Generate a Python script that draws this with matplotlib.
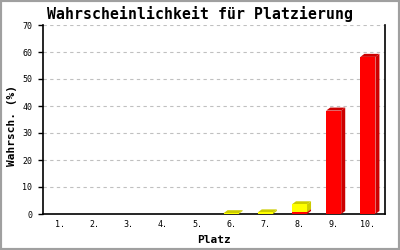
import matplotlib
matplotlib.use("Agg")
import matplotlib.pyplot as plt
from matplotlib.patches import Polygon, Rectangle
import numpy as np

places = [1, 2, 3, 4, 5, 6, 7, 8, 9, 10]
tick_labels = ["1.", "2.", "3.", "4.", "5.", "6.", "7.", "8.", "9.", "10."]
red_vals = [0, 0, 0, 0, 0, 0, 0, 0.7, 38.3, 58.2]
yellow_vals = [0, 0, 0, 0, 0, 0.3, 0.6, 2.9, 0, 0]

title = "Wahrscheinlichkeit für Platzierung"
ylabel = "Wahrsch. (%)"
xlabel = "Platz"

mono = ["DejaVu Sans Mono"]

fig = plt.figure(figsize=(4, 2.5), dpi=100)
ax = fig.add_axes([0.1075, 0.144, 0.855, 0.756])
ax.set_xlim(0.5, 10.5)
ax.set_ylim(0, 70)

# convert 3D depth offset (pixels) to data units via the axes transform
p0 = ax.transData.inverted().transform((0, 0))
p1 = ax.transData.inverted().transform((4, 3))
dx, dy = p1[0] - p0[0], p1[1] - p0[1]

width = 0.44
series = [(red_vals, "#ff0000", "#cc0000"), (yellow_vals, "#ffff00", "#cccc00")]
bottoms = np.zeros(len(places))
for vals, front, dark in series:
    for x, v, b in zip(places, vals, bottoms):
        if v <= 0:
            continue
        x0, x1 = x - width / 2, x + width / 2
        y0, y1 = b, b + v
        side = Polygon([(x1, y0), (x1 + dx, y0 + dy), (x1 + dx, y1 + dy), (x1, y1)],
                       closed=True, facecolor=dark, edgecolor="none", zorder=3)
        top = Polygon([(x0, y1), (x0 + dx, y1 + dy), (x1 + dx, y1 + dy), (x1, y1)],
                      closed=True, facecolor=dark, edgecolor="none", zorder=3)
        ax.add_patch(side)
        ax.add_patch(top)
        ax.add_patch(Rectangle((x0, y0), width, v, facecolor=front,
                               edgecolor="none", zorder=4))
    bottoms = bottoms + np.array(vals)

ax.set_yticks(np.arange(0, 71, 10))
ax.set_xticks(places)
ax.set_xticklabels(tick_labels)
ax.yaxis.grid(True, color="#c0c0c0", linestyle=(0, (3, 3)), linewidth=0.8)
ax.set_axisbelow(True)
ax.tick_params(axis="y", length=3.6, width=1, pad=4, labelsize=6, direction="out")
ax.tick_params(axis="x", length=0, pad=4, labelsize=6)
for lab in ax.get_xticklabels() + ax.get_yticklabels():
    lab.set_family(mono)
ax.spines["top"].set_visible(False)
for s in ["left", "bottom", "right"]:
    ax.spines[s].set_linewidth(1.2)
    ax.spines[s].set_color("black")

fig.text(0.5, 0.944, title, ha="center", va="center", fontsize=10.7,
         fontweight="bold", family=mono)
fig.text(0.03, 0.5, ylabel, ha="center", va="center", rotation=90,
         fontsize=8, fontweight="bold", family=mono)
fig.text(0.535, 0.04, xlabel, ha="center", va="center",
         fontsize=8, fontweight="bold", family=mono)

fig.patches.append(Rectangle((0, 0), 1, 1, transform=fig.transFigure,
                             fill=False, edgecolor="#a0a0a0", linewidth=3))

fig.savefig("out.png", dpi=100)
